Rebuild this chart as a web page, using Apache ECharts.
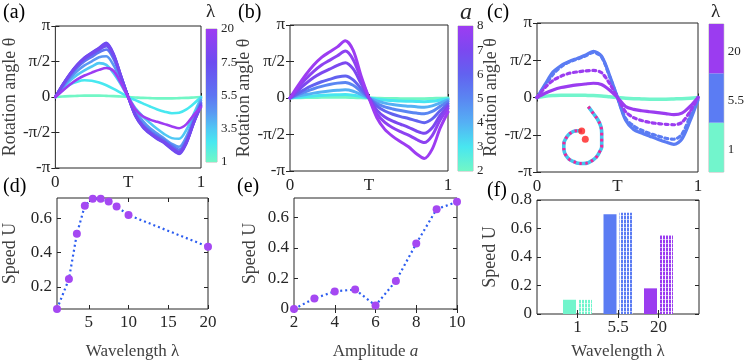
<!DOCTYPE html>
<html><head><meta charset="utf-8">
<script src="https://cdn.jsdelivr.net/npm/echarts@6/dist/echarts.min.js"></script>
<style>html,body{margin:0;padding:0;background:#fff}#c{width:747px;height:361px}</style>
</head><body><div id="c"></div>
<script>
const PI = Math.PI;
// ---------- data ----------
const tSamples = [0,0.05,0.1,0.15,0.2,0.25,0.3,0.35,0.4,0.45,0.5,0.55,0.6,0.65,0.7,0.75,0.8,0.85,0.9,0.95,1];
// (a) rotation angle vs time for wavelengths
const lambdaA = [1,2.5,3.5,4.5,5.5,6.5,7.5,8.5,10,20];
const thetaA_1  = [0,.02,.04,.05,.06,.06,.06,.05,.04,.02,0,-.02,-.04,-.05,-.06,-.06,-.06,-.05,-.04,-.02,0];
const thetaA_2  = [0,.30,.55,.68,.74,.72,.64,.52,.36,.18,0,-.14,-.28,-.42,-.55,-.65,-.72,-.70,-.55,-.30,0];
const thetaA_3  = [0,.38,.72,.98,1.18,1.35,1.50,1.42,1.05,.55,0,-.50,-.85,-1.15,-1.42,-1.65,-1.82,-1.85,-1.45,-.75,-.05];
const thetaA_4  = [0,.42,.82,1.15,1.40,1.58,1.76,1.80,1.40,.72,0,-.62,-1.05,-1.38,-1.62,-1.85,-2.08,-2.20,-1.75,-.95,-.15];
const thetaA_5  = [0,.48,.92,1.30,1.58,1.78,1.98,2.10,1.68,.85,0,-.75,-1.20,-1.50,-1.72,-1.92,-2.15,-2.33,-1.90,-1.05,-.25];
const thetaA_6  = [0,.52,.98,1.38,1.68,1.88,2.08,2.25,1.78,.90,0,-.80,-1.28,-1.58,-1.80,-2.00,-2.25,-2.43,-1.98,-1.10,-.30];
const thetaA_7  = [0,.55,1.03,1.43,1.75,1.97,2.18,2.40,1.90,.95,0,-.85,-1.33,-1.63,-1.86,-2.05,-2.32,-2.52,-2.05,-1.15,-.35];
const thetaA_8  = [0,.54,1.02,1.42,1.73,1.95,2.15,2.36,1.88,.94,0,-.84,-1.31,-1.61,-1.84,-2.03,-2.29,-2.49,-2.02,-1.15,-.38];
const thetaA_9  = [0,.53,1.00,1.40,1.70,1.92,2.12,2.30,1.85,.92,0,-.82,-1.28,-1.58,-1.82,-2.00,-2.25,-2.44,-2.00,-1.15,-.42];
const thetaA_10 = [0,.28,.55,.78,.95,1.08,1.20,1.28,1.15,.62,0,-.55,-.85,-1.00,-1.10,-1.20,-1.30,-1.38,-1.20,-.80,-.45];
const colorbarA_labels = ['1','3.5','5.5','7.5','20'];
// (b) rotation angle vs time for amplitudes
const thetaB_1 = [0,.01,.02,.02,.03,.03,.03,.03,.02,.01,0,-.01,-.02,-.02,-.03,-.03,-.03,-.03,-.02,-.01,0];
const thetaB_2 = [0,.03,.06,.09,.11,.13,.14,.15,.12,.06,0,-.05,-.09,-.11,-.13,-.14,-.15,-.16,-.14,-.09,-.03];
const thetaB_3 = [0,.08,.15,.21,.26,.30,.33,.35,.29,.15,0,-.13,-.22,-.28,-.32,-.35,-.38,-.40,-.34,-.21,-.08];
const thetaB_4 = [0,.15,.28,.40,.50,.58,.64,.67,.55,.28,0,-.24,-.38,-.47,-.54,-.60,-.65,-.68,-.58,-.36,-.15];
const thetaB_5 = [0,.20,.40,.56,.70,.80,.90,.95,.78,.40,0,-.35,-.56,-.70,-.80,-.88,-.98,-1.06,-.90,-.55,-.25];
const thetaB_6 = [0,.32,.62,.88,1.08,1.24,1.40,1.52,1.25,.62,0,-.52,-.82,-1.00,-1.13,-1.26,-1.42,-1.52,-1.28,-.75,-.35];
const thetaB_7 = [0,.42,.82,1.15,1.42,1.62,1.82,2.02,1.65,.82,0,-.68,-1.05,-1.28,-1.45,-1.60,-1.78,-1.92,-1.62,-.95,-.45];
const thetaB_8 = [0,.52,1.00,1.42,1.75,1.98,2.20,2.46,2.05,.95,0,-.85,-1.35,-1.65,-1.88,-2.10,-2.40,-2.60,-2.20,-1.30,-.60];
const colorbarB_labels = ['2','3','4','5','6','7','8'];
// (c) solid / dotted comparisons
const thetaC_green     = [0,.05,.08,.10,.10,.10,.09,.08,.06,.03,0,-.03,-.05,-.06,-.07,-.07,-.07,-.06,-.05,-.03,0];
const thetaC_blue      = [0,.55,1.08,1.35,1.52,1.65,1.78,1.95,1.75,.95,0,-.95,-1.35,-1.50,-1.63,-1.76,-1.88,-1.98,-1.75,-1.00,-.10];
const thetaC_blueDot   = [0,.50,.98,1.30,1.50,1.62,1.75,1.90,1.72,.90,0,-.88,-1.20,-1.38,-1.52,-1.62,-1.72,-1.76,-1.55,-.80,0];
const thetaC_purpleDot = [0,.42,.72,.90,1.02,1.08,1.12,1.14,1.05,.60,0,-.60,-.85,-.97,-1.05,-1.10,-1.13,-1.15,-1.05,-.60,0];
const thetaC_purple    = [0,.18,.32,.42,.48,.53,.57,.60,.55,.32,0,-.38,-.50,-.56,-.60,-.64,-.68,-.72,-.66,-.38,0];
const colorbarC_labels = ['1','5.5','20'];
const spiralX = [33.3,38,43,46,46.7,46.7,46.7,44.5,41.7,38,33.3,28,23.3,18.5,14.3,11,9.3,8.8,9,10.8,13.3,16.5,20,23.5,26.7];
const spiralY = [68.3,62,55,48,41.7,35,28.3,23,18.3,15,12.3,11.5,11.7,13.5,15.7,19.5,23.3,28,32.3,36.5,40,42.5,44,44.2,44];
const headX = [26.7,30.3];
const headY = [44,35.7];
// (d) speed vs wavelength
const lambdaD = [1,2.5,3.5,4.5,5.5,6.5,7.5,8.5,10,20];
const speedD  = [0.07,0.245,0.51,0.675,0.715,0.715,0.70,0.67,0.62,0.435];
// (e) speed vs amplitude
const ampE   = [2,3,4,5,6,7,8,9,10];
const speedE = [0,0.069,0.115,0.127,0.023,0.183,0.427,0.652,0.70];
// (f) bars
const catsF = ['1','5.5','20'];
const speedF_solid   = [0.10,0.70,0.18];
const speedF_hatched = [0.10,0.71,0.555];

// ---------- styling helpers ----------
const SERIF = "'Liberation Serif', 'Times New Roman', serif";
const INK = '#262626';
function hex2rgb(h){return [parseInt(h.slice(1,3),16),parseInt(h.slice(3,5),16),parseInt(h.slice(5,7),16)];}
function gradAt(stops,p){
  for(let i=0;i<stops.length-1;i++){
    const a=stops[i],b=stops[i+1];
    if(p<=b[0]){const f=(p-a[0])/(b[0]-a[0]);const ca=hex2rgb(a[1]),cb=hex2rgb(b[1]);
      return 'rgb('+ca.map((v,k)=>Math.round(v+(cb[k]-v)*f)).join(',')+')';}
  }
  return stops[stops.length-1][1];
}
const stopsA = [[0,'#72f7c6'],[0.15,'#48e8f0'],[0.25,'#50c8f4'],[0.375,'#5a98f2'],[0.5,'#5e74f2'],[0.75,'#6c4cf0'],[1,'#9d3cf2']];
const stopsB = [[0,'#72f7c6'],[1/6,'#48e6f0'],[2/6,'#55b0f4'],[3/6,'#5a86f2'],[4/6,'#6262f0'],[5/6,'#7c48f0'],[1,'#9d3cf2']];
const GREEN='#72f5cc', BLUE='#5b7cf3', PURPLE='#9b3cf0';
function lamPos(l){const L=[1,3.5,5.5,7.5,20];for(let i=0;i<L.length-1;i++){if(l<=L[i+1])return (i+(l-L[i])/(L[i+1]-L[i]))/4;}return 1;}
function cssGrad(stops){return {type:'linear',x:0,y:1,x2:0,y2:0,colorStops:stops.map(s=>({offset:s[0],color:s[1]}))};}
function hatch(color){
  const c=document.createElement('canvas');c.width=3;c.height=4;
  const g=c.getContext('2d');g.fillStyle='#fff';g.fillRect(0,0,3,4);
  g.fillStyle=color;g.fillRect(0,0,2,3);g.globalAlpha=0.45;g.fillRect(0,3,2,1);
  return {image:c,repeat:'repeat'};
}

const grids=[],xAxes=[],yAxes=[],series=[];
const tick={show:true,inside:true,length:4,lineStyle:{color:INK,width:1}};
const nameStyle={fontFamily:SERIF,fontSize:18,color:'#404040'};
function valueAxis(gi,pos,c,labels){
  return {gridIndex:gi,type:'value',position:pos,min:c.min,max:c.max,
    axisLine:{show:false},splitLine:{show:false},
    axisTick:Object.assign({},tick,{customValues:c.ticks}),
    axisLabel:{show:labels,customValues:c.ticks,formatter:c.fmt,color:INK,fontFamily:SERIF,fontSize:c.fs||17,margin:c.margin||5},
    name:labels?c.name:'',nameLocation:'middle',nameGap:c.nameGap,nameTextStyle:Object.assign({},nameStyle,c.nameStyle||{})};
}
function addPlot(box,xc,yc){
  const gi=grids.length;
  grids.push({left:box[0],top:box[1],width:box[2],height:box[3],show:true,borderColor:INK,borderWidth:1,backgroundColor:'transparent'});
  const xi=xAxes.length,yi=yAxes.length;
  if(xc.category){
    const catTick=(i)=>i>=1&&i<=xc.data.length-2;
    xAxes.push({gridIndex:gi,type:'category',position:'bottom',data:xc.data,boundaryGap:false,
      axisLine:{show:false},splitLine:{show:false},
      axisTick:Object.assign({},tick,{interval:catTick}),
      axisLabel:{interval:catTick,color:INK,fontFamily:SERIF,fontSize:17,margin:5},
      name:xc.name,nameLocation:'middle',nameGap:xc.nameGap,nameTextStyle:Object.assign({},nameStyle,{fontSize:17})});
    xAxes.push({gridIndex:gi,type:'category',position:'top',data:xc.data,boundaryGap:false,
      axisLine:{show:false},splitLine:{show:false},axisTick:Object.assign({},tick,{interval:catTick}),axisLabel:{show:false}});
  } else {
    xAxes.push(valueAxis(gi,'bottom',xc,true));
    xAxes.push(valueAxis(gi,'top',xc,false));
  }
  yAxes.push(valueAxis(gi,'left',yc,true));
  yAxes.push(valueAxis(gi,'right',yc,false));
  return {xi,yi};
}
function addColorbar(box,ymax,ticks,fmt){
  const gi=grids.length;
  grids.push({left:box[0],top:box[1],width:box[2],height:box[3],show:true,borderColor:'#b8b8b8',borderWidth:1,backgroundColor:'transparent'});
  const xi=xAxes.length,yi=yAxes.length;
  xAxes.push({gridIndex:gi,type:'category',data:['c'],show:false});
  yAxes.push({gridIndex:gi,type:'value',position:'right',min:0,max:ymax,axisLine:{show:false},splitLine:{show:false},axisTick:{show:false},
    axisLabel:{customValues:ticks,formatter:fmt,color:INK,fontFamily:SERIF,fontSize:13,margin:4}});
  return {xi,yi};
}

const piLabels=['-π','-π/2','0','π/2','π'];
const thetaY=(gap)=>({min:-PI,max:PI,ticks:[-PI,-PI/2,0,PI/2,PI],fmt:v=>piLabels[Math.round(v/(PI/2))+2],fs:17,name:'Rotation angle θ',nameGap:gap});
const timeX={min:0,max:1,ticks:[0,0.5,1],fmt:v=>(v===0?'0':(v===1?'1':'T')),fs:17,margin:6};

function addLine(ax,ys,color,width,dash){
  series.push({type:'line',xAxisIndex:ax.xi,yAxisIndex:ax.yi,data:tSamples.map((t,i)=>[t,ys[i]]),
    smooth:0.3,showSymbol:false,symbol:'none',lineStyle:{color:color,width:width,type:dash||'solid',cap:'round'},z:3});
}

// (a)
const axA=addPlot([46,26,155,142],timeX,thetaY(34));
const linesA=[thetaA_1,thetaA_2,thetaA_3,thetaA_4,thetaA_5,thetaA_6,thetaA_7,thetaA_8,thetaA_9,thetaA_10];
linesA.forEach((ys,i)=>addLine(axA,ys,gradAt(stopsA,lamPos(lambdaA[i])),2.6));
// (b)
const axB=addPlot([290,25,158,146],timeX,thetaY(33));
const linesB=[thetaB_1,thetaB_2,thetaB_3,thetaB_4,thetaB_5,thetaB_6,thetaB_7,thetaB_8];
const posB=[0,1/6,2/6,3/6,4/6,5/6,0.92,1];
linesB.forEach((ys,i)=>addLine(axB,ys,gradAt(stopsB,posB[i]),3));
// (c)
const axC=addPlot([537,23,161,149],timeX,thetaY(32));
addLine(axC,thetaC_green,GREEN,3.5);
addLine(axC,thetaC_blue,BLUE,3.2);
addLine(axC,thetaC_blueDot,BLUE,3.2,[3,3.5]);
addLine(axC,thetaC_purpleDot,PURPLE,3.2,[3,3.5]);
addLine(axC,thetaC_purple,PURPLE,3.2);
// inset filament
const gIn=grids.length;
grids.push({left:555,top:100,width:60,height:75,show:false});
const inX=xAxes.length,inY=yAxes.length;
xAxes.push({gridIndex:gIn,type:'value',min:0,max:60,show:false});
yAxes.push({gridIndex:gIn,type:'value',min:0,max:75,show:false});
series.push({type:'line',xAxisIndex:inX,yAxisIndex:inY,data:spiralX.map((x,i)=>[x,spiralY[i]]),smooth:0.4,showSymbol:false,symbol:'none',lineStyle:{color:'#45c4ee',width:3.6},z:4});
series.push({type:'line',xAxisIndex:inX,yAxisIndex:inY,data:spiralX.map((x,i)=>[x,spiralY[i]]),smooth:0.4,showSymbol:false,symbol:'none',lineStyle:{color:'#f0249c',width:3,type:[2.5,3.5]},z:5});
series.push({type:'scatter',xAxisIndex:inX,yAxisIndex:inY,data:headX.map((x,i)=>[x,headY[i]]),symbolSize:7,itemStyle:{color:'#ff1f1f'},z:6});

// colorbars
const cbA=addColorbar([206,29,11,133],4,[0,1,2,3,4],v=>colorbarA_labels[Math.round(v)]);
series.push({type:'bar',xAxisIndex:cbA.xi,yAxisIndex:cbA.yi,data:[4],barWidth:'100%',itemStyle:{color:cssGrad(stopsA)},silent:true});
const cbB=addColorbar([458,26,15,145],6,[0,1,2,3,4,5,6],v=>colorbarB_labels[Math.round(v)]);
series.push({type:'bar',xAxisIndex:cbB.xi,yAxisIndex:cbB.yi,data:[6],barWidth:'100%',itemStyle:{color:cssGrad(stopsB)},silent:true});
const cbC=addColorbar([709,24,15,148],3,[0.45,1.45,2.45],v=>colorbarC_labels[Math.floor(v)]);
[GREEN,BLUE,PURPLE].forEach(col=>series.push({type:'bar',stack:'cbc',xAxisIndex:cbC.xi,yAxisIndex:cbC.yi,data:[1],barWidth:'100%',itemStyle:{color:col},silent:true}));

// (d)
const axD=addPlot([57,198,151,115],
  {min:1,max:20,ticks:[5,10,15,20],fmt:v=>String(v),name:'Wavelength λ',nameGap:34,margin:5,nameStyle:{fontSize:17}},
  {min:0.07,max:0.72,ticks:[0.2,0.4,0.6],fmt:v=>v.toFixed(1),name:'Speed U',nameGap:38});
series.push({type:'line',xAxisIndex:axD.xi,yAxisIndex:axD.yi,data:lambdaD.map((x,i)=>[x,speedD[i]]),clip:false,
  symbol:'circle',symbolSize:8,itemStyle:{color:'#a548f2'},lineStyle:{color:'#2c5df0',width:2.2,type:[2,3]},z:4});
// (e)
const axE=addPlot([294,198,163,116],
  {min:2,max:10,ticks:[2,4,6,8,10],fmt:v=>String(v),name:'Amplitude {i|a}',nameGap:34,
   nameStyle:{fontSize:17,rich:{i:{fontFamily:SERIF,fontSize:17,fontStyle:'italic',color:'#404040'}}},margin:5},
  {min:0,max:0.725,ticks:[0,0.2,0.4,0.6],fmt:v=>(v===0?'0':v.toFixed(1)),name:'Speed U',nameGap:35});
series.push({type:'line',xAxisIndex:axE.xi,yAxisIndex:axE.yi,data:ampE.map((x,i)=>[x,speedE[i]]),clip:false,
  symbol:'circle',symbolSize:8,itemStyle:{color:'#a548f2'},lineStyle:{color:'#2c5df0',width:2.2,type:[2,3]},z:4});
// (f)
const colsF=[GREEN,BLUE,PURPLE];
const axF=addPlot([537,200,162,119],
  {category:true,data:[''].concat(catsF,['']),name:'Wavelength λ',nameGap:29},
  {min:0,max:0.8,ticks:[0,0.2,0.4,0.6,0.8],fmt:v=>(v===0?'0':v.toFixed(1)),name:'Speed U',nameGap:38});
series.push({type:'bar',xAxisIndex:axF.xi,yAxisIndex:axF.yi,barWidth:13,barGap:'23%',
  data:[null].concat(speedF_solid.map((v,i)=>({value:v,itemStyle:{color:colsF[i]}})),[null]),z:3});
series.push({type:'bar',xAxisIndex:axF.xi,yAxisIndex:axF.yi,barWidth:13,barGap:'23%',
  data:[null].concat(speedF_hatched.map((v,i)=>({value:v,itemStyle:{color:hatch(colsF[i])}})),[null]),z:3});

// texts
const lbl=(x,y,t)=>({type:'text',left:x,top:y,style:{text:t,font:'20px '+SERIF,fill:'#000'}});
const graphic=[
  lbl(3,3,'(a)'),lbl(238,3,'(b)'),lbl(487,3,'(c)'),
  lbl(3,177,'(d)'),lbl(237,177,'(e)'),lbl(487,181,'(f)'),
  {type:'text',left:206,top:3,style:{text:'λ',font:'19px '+SERIF,fill:INK}},
  {type:'text',left:460,top:1,style:{text:'a',font:'italic 24px '+SERIF,fill:INK}},
  {type:'text',left:711,top:3,style:{text:'λ',font:'19px '+SERIF,fill:INK}}
];

const chart=echarts.init(document.getElementById('c'),null,{renderer:'canvas'});
chart.setOption({animation:false,backgroundColor:'#fff',grid:grids,xAxis:xAxes,yAxis:yAxes,series:series,graphic:graphic});
</script></body></html>
